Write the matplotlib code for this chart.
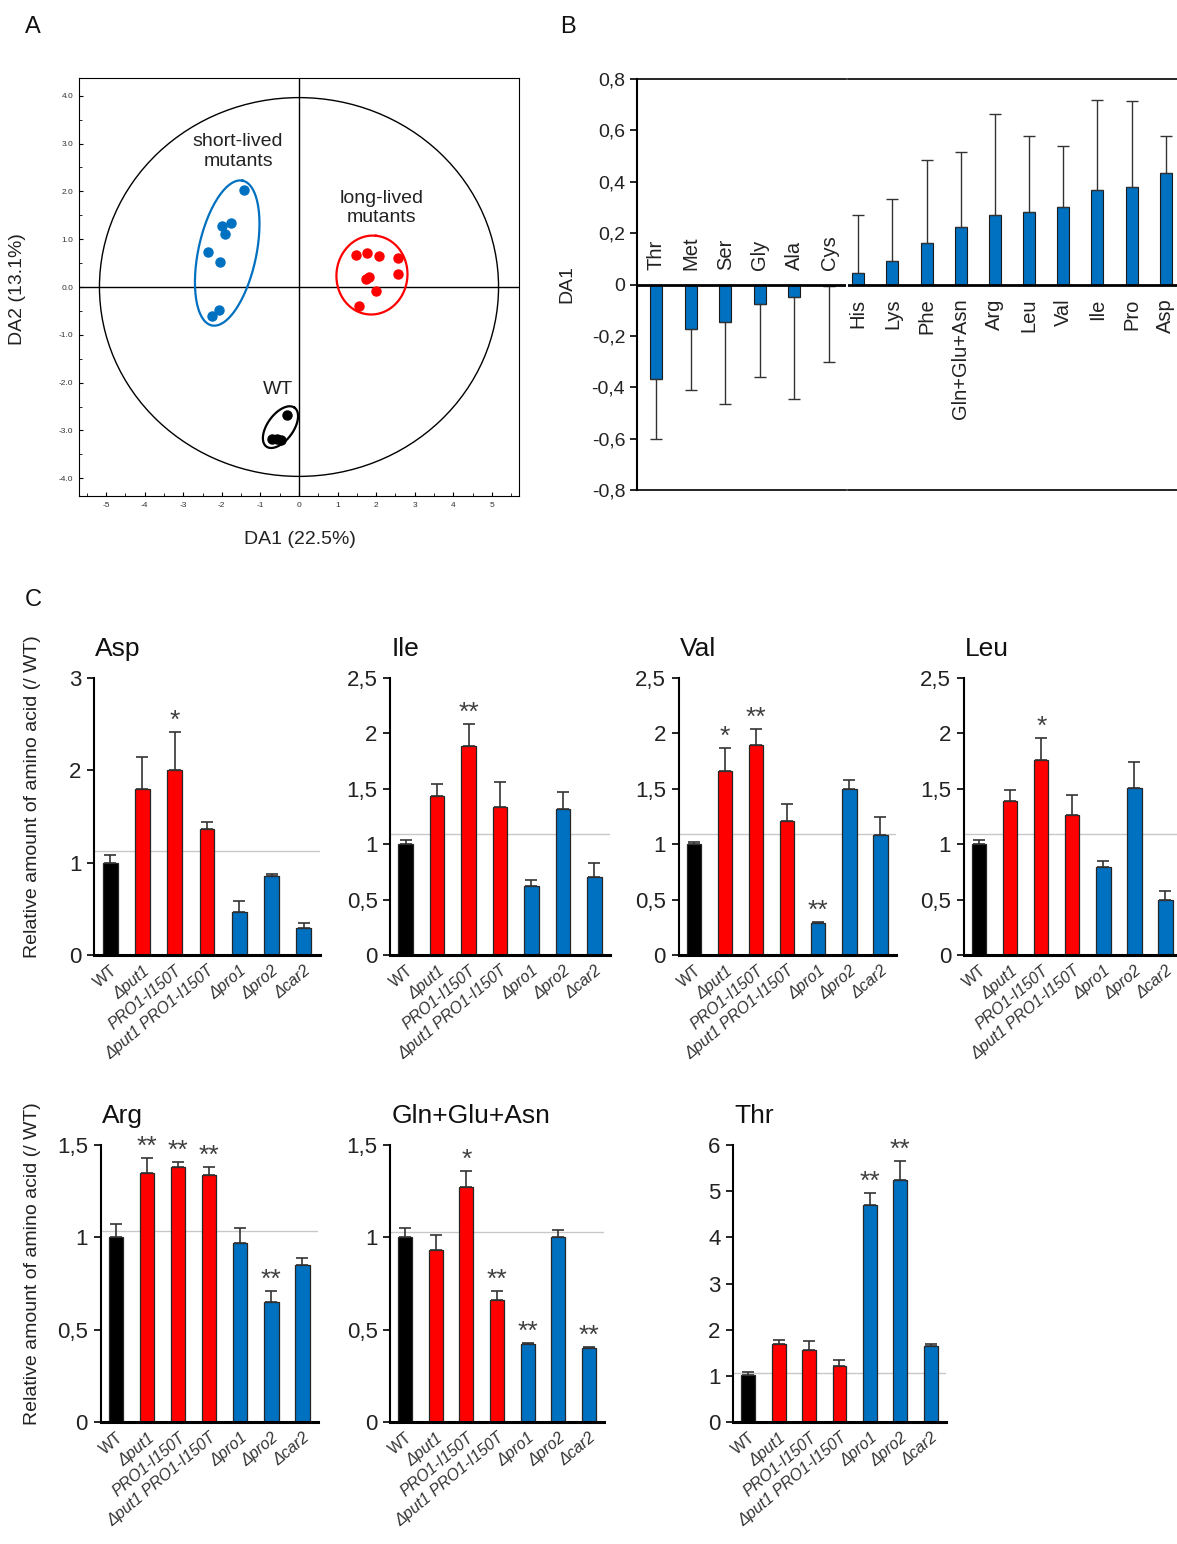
import matplotlib
matplotlib.use("Agg")
import matplotlib.pyplot as plt
import matplotlib.transforms as mtransforms
import numpy as np
from matplotlib.patches import Ellipse
from matplotlib.ticker import MultipleLocator, FuncFormatter

plt.rcParams['font.family'] = ['Liberation Sans', 'DejaVu Sans']

W, H = 1177, 1544

# ---------------- Panel A: DA scores ----------------
short_x = [-1.42, -1.77, -1.99, -1.91, -2.37, -2.05, -2.06, -2.25]
short_y = [2.02, 1.34, 1.28, 1.11, 0.74, 0.52, -0.49, -0.61]
long_x = [1.47, 1.76, 2.06, 2.56, 2.56, 1.81, 1.74, 2.00, 1.55]
long_y = [0.67, 0.71, 0.65, 0.60, 0.28, 0.20, 0.17, -0.09, -0.39]
wt_x = [-0.32, -0.70, -0.57, -0.47]
wt_y = [-2.68, -3.17, -3.18, -3.19]

# ---------------- Panel B: DA1 loadings ----------------
neg_aa = ['Thr', 'Met', 'Ser', 'Gly', 'Ala', 'Cys']
neg_val = [-0.366, -0.173, -0.146, -0.077, -0.050, -0.006]
neg_err = [0.234, 0.239, 0.321, 0.284, 0.394, 0.296]
pos_aa = ['His', 'Lys', 'Phe', 'Gln+Glu+Asn', 'Arg', 'Leu', 'Val', 'Ile', 'Pro', 'Asp']
pos_val = [0.043, 0.093, 0.162, 0.223, 0.272, 0.281, 0.301, 0.366, 0.379, 0.434]
pos_err = [0.229, 0.240, 0.323, 0.292, 0.393, 0.296, 0.240, 0.354, 0.337, 0.143]

# ---------------- Panel C: relative amounts ----------------
strains = ['WT', 'Δput1', 'PRO1-I150T', 'Δput1 PRO1-I150T', 'Δpro1', 'Δpro2', 'Δcar2']
strain_colors = ['#000000', '#FF0000', '#FF0000', '#FF0000', '#0070C0', '#0070C0', '#0070C0']

asp_mean = [1.00, 1.80, 2.00, 1.36, 0.46, 0.85, 0.29]
asp_err = [0.08, 0.34, 0.41, 0.08, 0.12, 0.03, 0.06]
asp_sig = ['', '', '*', '', '', '', '']

ile_mean = [1.00, 1.43, 1.88, 1.33, 0.62, 1.32, 0.70]
ile_err = [0.04, 0.11, 0.20, 0.23, 0.06, 0.15, 0.13]
ile_sig = ['', '', '**', '', '', '', '']

val_mean = [1.00, 1.66, 1.89, 1.21, 0.285, 1.50, 1.08]
val_err = [0.02, 0.21, 0.15, 0.15, 0.01, 0.08, 0.16]
val_sig = ['', '*', '**', '', '**', '', '']

leu_mean = [1.00, 1.39, 1.76, 1.26, 0.79, 1.51, 0.50]
leu_err = [0.04, 0.10, 0.20, 0.18, 0.06, 0.23, 0.08]
leu_sig = ['', '', '*', '', '', '', '']

arg_mean = [1.00, 1.35, 1.38, 1.34, 0.97, 0.65, 0.85]
arg_err = [0.07, 0.08, 0.03, 0.04, 0.08, 0.06, 0.04]
arg_sig = ['', '**', '**', '**', '', '**', '']

gga_mean = [1.00, 0.93, 1.27, 0.66, 0.42, 1.00, 0.40]
gga_err = [0.05, 0.08, 0.09, 0.05, 0.01, 0.04, 0.005]
gga_sig = ['', '', '*', '**', '**', '', '**']

thr_mean = [1.01, 1.69, 1.57, 1.21, 4.70, 5.24, 1.65]
thr_err = [0.07, 0.09, 0.19, 0.13, 0.25, 0.41, 0.04]
thr_sig = ['', '', '', '', '**', '**', '']

ref_line = {'Asp': 1.12, 'Ile': 1.09, 'Val': 1.09, 'Leu': 1.09,
            'Arg': 1.035, 'Gln+Glu+Asn': 1.03, 'Thr': 1.06}

fig = plt.figure(figsize=(W / 100, H / 100), dpi=100)


def box(x0, y0, x1, y1):
    # pixel box -> figure fraction
    return [x0 / W, 1 - y1 / H, (x1 - x0) / W, (y1 - y0) / H]


def comma(v, pos=None):
    if abs(v - round(v)) < 1e-9:
        return '%d' % round(v)
    return ('%g' % v).replace('.', ',')


# ===== Panel A =====
axA = fig.add_axes(box(79, 78, 519, 496))
axA.set_xlim(-5.7, 5.7)
axA.set_ylim(-4.37, 4.37)
axA.axhline(0, color='black', lw=1)
axA.axvline(0, color='black', lw=1)
axA.add_patch(Ellipse((0, 0), 10.34, 7.92, fill=False, ec='black', lw=1))

axA.plot(short_x, short_y, 'o', color='#0070C0', ms=6.5)
axA.plot(long_x, long_y, 'o', color='#FF0000', ms=6.5)
axA.plot(wt_x, wt_y, 'o', color='black', ms=6.5)

# group rings: centre (data), semi-axes (px), angle (deg)
sx = 440 / 11.4
sy = 418 / 8.74
rings = [((-1.86, 0.71), 74, 29, 78, '#0070C0'),
         ((1.89, 0.25), 39.5, 35.5, 84, '#FF0000'),
         ((-0.48, -2.93), 24, 13, 54, 'black')]
t = np.linspace(0, 2 * np.pi, 200)
for (cx, cy), a, b, ang, col in rings:
    th = np.deg2rad(ang)
    dx = a * np.cos(t) * np.cos(th) - b * np.sin(t) * np.sin(th)
    dy = a * np.cos(t) * np.sin(th) + b * np.sin(t) * np.cos(th)
    axA.plot(cx + dx / sx, cy + dy / sy, color=col, lw=1.6)

axA.text(-1.58, 2.83, 'short-lived\nmutants', ha='center', va='center', fontsize=14, color='#222222')
axA.text(2.13, 1.65, 'long-lived\nmutants', ha='center', va='center', fontsize=14, color='#222222')
axA.text(-0.54, -2.14, 'WT', ha='center', va='center', fontsize=14, color='#222222')

axA.xaxis.set_major_locator(MultipleLocator(1))
axA.xaxis.set_minor_locator(MultipleLocator(0.5))
axA.yaxis.set_major_locator(MultipleLocator(1))
axA.yaxis.set_minor_locator(MultipleLocator(0.5))
axA.xaxis.set_major_formatter(FuncFormatter(lambda v, p: '%d' % round(v)))
axA.yaxis.set_major_formatter(FuncFormatter(lambda v, p: '%.1f' % v))
axA.tick_params(which='both', direction='in', labelsize=6, labelcolor='#333333')
axA.tick_params(which='major', length=3, pad=4)
axA.tick_params(which='minor', length=2)
fig.text(300 / W, 1 - 540 / H, 'DA1 (22.5%)', ha='center', va='center', fontsize=14, color='#222222')
fig.text(18 / W, 1 - 289 / H, 'DA2 (13.1%)', ha='center', va='center', rotation=90,
         fontsize=14, color='#222222')

# ===== Panel B =====
axL = fig.add_axes(box(637, 79, 846, 490))
axR = fig.add_axes(box(848, 79, 1177, 490))
for ax, names, vals, errs, xl in [(axL, neg_aa, neg_val, neg_err, (-0.55, 5.49)),
                                   (axR, pos_aa, pos_val, pos_err, (-0.30, 9.33))]:
    x = np.arange(len(names))
    neg = np.array(vals) < 0
    lower = np.where(neg, errs, 0)
    upper = np.where(neg, 0, errs)
    ax.bar(x, vals, width=0.35, color='#0070C0', edgecolor='#1a1a1a', lw=0.8, zorder=2)
    ax.errorbar(x, vals, yerr=[lower, upper], fmt='none', ecolor='#333333',
                elinewidth=1, capsize=4, capthick=1, zorder=3)
    ax.axhline(0, color='black', lw=2, zorder=4)
    for xi, name, v in zip(x, names, vals):
        if v < 0:
            ax.text(xi, 0.055, name, rotation=90, ha='center', va='bottom', fontsize=14.5, color='#222222')
        else:
            ax.text(xi, -0.055, name, rotation=90, ha='center', va='top', fontsize=14.5, color='#222222')
    ax.set_xlim(*xl)
    ax.set_ylim(-0.8, 0.8)
    ax.set_xticks([])
    ax.spines['right'].set_visible(False)
    ax.spines['top'].set_linewidth(1.2)
    ax.spines['bottom'].set_linewidth(1.2)

axL.spines['left'].set_linewidth(1.5)
axL.yaxis.set_major_locator(MultipleLocator(0.2))
axL.yaxis.set_major_formatter(FuncFormatter(comma))
axL.tick_params(axis='y', direction='out', length=5, width=1.2, labelsize=14, labelcolor='#222222')
axR.spines['left'].set_visible(False)
axR.set_yticks([])
fig.text(567 / W, 1 - 284 / H, 'DA1', ha='center', va='center', rotation=90, fontsize=14, color='#222222')

# ===== Panel C =====
panels = [
    ('Asp', asp_mean, asp_err, asp_sig, (94, 677.7, 320, 955), 3, 1),
    ('Ile', ile_mean, ile_err, ile_sig, (390, 677.7, 610, 955), 2.5, 0.5),
    ('Val', val_mean, val_err, val_sig, (678.5, 677.7, 896, 955), 2.5, 0.5),
    ('Leu', leu_mean, leu_err, leu_sig, (963.7, 677.7, 1181, 955), 2.5, 0.5),
    ('Arg', arg_mean, arg_err, arg_sig, (100.5, 1145, 318, 1422), 1.5, 0.5),
    ('Gln+Glu+Asn', gga_mean, gga_err, gga_sig, (390, 1145, 604, 1422), 1.5, 0.5),
    ('Thr', thr_mean, thr_err, thr_sig, (733, 1145, 946, 1422), 6, 1),
]

x = np.arange(len(strains))
for title, mean, err, sig, pb, ymax, step in panels:
    ax = fig.add_axes(box(*pb))
    ax.axhline(ref_line[title], color='#c8c8c8', lw=1, zorder=1)
    ax.bar(x, mean, width=0.46, color=strain_colors, edgecolor='#262626', lw=0.9, zorder=2)
    ax.errorbar(x, mean, yerr=[np.zeros(len(err)), err], fmt='none', ecolor='#333333',
                elinewidth=1.2, capsize=4.3, capthick=1.2, zorder=3)
    for xi, m, e, s in zip(x, mean, err, sig):
        if s:
            ax.annotate(s, (xi, m + e), xytext=(0, 3), textcoords='offset points',
                        ha='center', va='baseline', fontsize=19, color='#404040')
    ax.set_xlim(-0.5, 6.5)
    ax.set_ylim(0, ymax)
    ax.yaxis.set_major_locator(MultipleLocator(step))
    ax.yaxis.set_major_formatter(FuncFormatter(comma))
    ax.tick_params(axis='y', direction='out', length=5, width=1.2, labelsize=16,
                   labelcolor='#222222', pad=4)
    ax.set_xticks([])
    ax.spines['top'].set_visible(False)
    ax.spines['right'].set_visible(False)
    ax.spines['left'].set_linewidth(1.5)
    ax.spines['bottom'].set_linewidth(2.2)
    ax.annotate(title, (0, 1), xycoords='axes fraction', xytext=(1, 21),
                textcoords='offset points', ha='left', va='center', fontsize=19, color='#111111')
    off = mtransforms.ScaledTranslation(5 / 100, -14 / 100, fig.dpi_scale_trans)
    for xi, name in zip(x, strains):
        ax.text(xi, 0, name, transform=ax.transData + off, rotation=40,
                rotation_mode='anchor', ha='right', va='center', fontsize=11.5,
                color='#333333', style='normal' if name == 'WT' else 'italic')

ylab = 'Relative amount of amino acid (/ WT)'
fig.text(33 / W, 1 - 797 / H, ylab, ha='center', va='center', rotation=90, fontsize=14, color='#222222')
fig.text(33 / W, 1 - 1264 / H, ylab, ha='center', va='center', rotation=90, fontsize=14, color='#222222')

# panel letters
for letter, (px, py) in zip('ABC', [(33, 27), (568, 27), (33, 600)]):
    fig.text(px / W, 1 - py / H, letter, ha='center', va='center', fontsize=17, color='#111111')

fig.savefig('out.png', dpi=100)
